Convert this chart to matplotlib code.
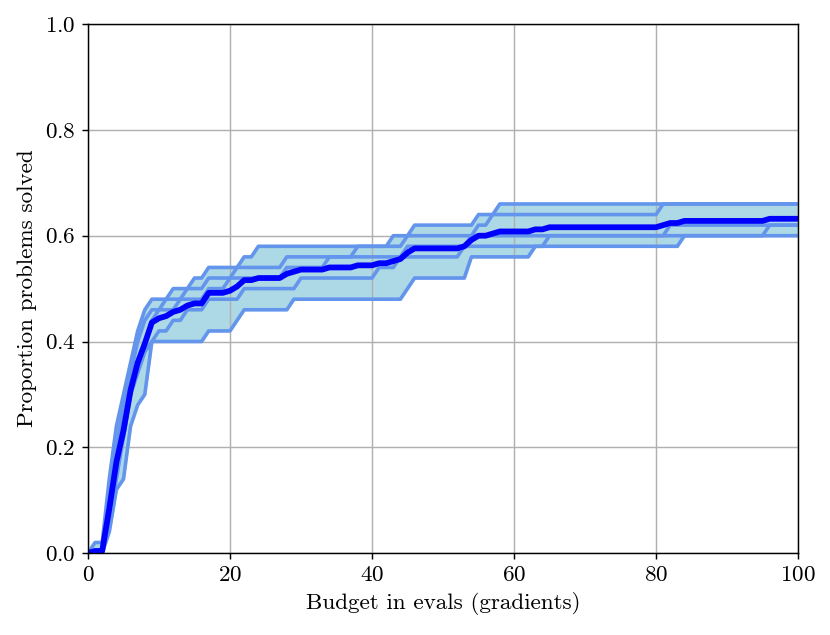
import numpy as np
import matplotlib
matplotlib.use("Agg")
import matplotlib.pyplot as plt

plt.rcParams["font.family"] = "serif"
plt.rcParams["font.serif"] = ["cmr10"]
plt.rcParams["mathtext.fontset"] = "cm"
plt.rcParams["axes.formatter.use_mathtext"] = True
plt.rcParams["font.size"] = 12.8

# budget grid (evals) and, per run, the budgets where the solved proportion changes
budgets = np.arange(0, 101)

run_a_at = [1, 3, 4, 5, 6, 7, 8, 9, 12, 15, 17, 22, 24, 43, 46, 55, 58]
run_a_solved = [0.02, 0.14, 0.24, 0.30, 0.36, 0.42, 0.46, 0.48, 0.50, 0.52, 0.54, 0.56, 0.58, 0.60, 0.62, 0.64, 0.66]

run_b_at = [3, 4, 5, 6, 7, 8, 9, 11, 14, 17, 21, 28, 38, 45, 55, 57, 81]
run_b_solved = [0.10, 0.20, 0.28, 0.34, 0.40, 0.44, 0.46, 0.48, 0.50, 0.52, 0.54, 0.56, 0.58, 0.60, 0.62, 0.64, 0.66]

run_c_at = [3, 4, 5, 6, 7, 8, 9, 10, 13, 17, 20, 28, 34, 45, 54, 96]
run_c_solved = [0.08, 0.16, 0.22, 0.30, 0.36, 0.40, 0.44, 0.46, 0.48, 0.50, 0.52, 0.54, 0.56, 0.58, 0.60, 0.62]

run_d_at = [3, 4, 5, 6, 7, 8, 9, 10, 12, 14, 17, 20, 22, 30, 41, 44, 53, 65, 82]
run_d_solved = [0.06, 0.14, 0.22, 0.30, 0.34, 0.38, 0.40, 0.42, 0.44, 0.46, 0.48, 0.48, 0.50, 0.52, 0.54, 0.56, 0.58, 0.60, 0.62]

run_e_at = [3, 4, 5, 6, 7, 8, 9, 17, 21, 22, 29, 45, 46, 54, 63, 84]
run_e_solved = [0.04, 0.12, 0.14, 0.24, 0.28, 0.30, 0.40, 0.42, 0.44, 0.46, 0.48, 0.50, 0.52, 0.56, 0.58, 0.60]


def solved_curve(change_at, change_solved):
    curve = np.zeros(len(budgets))
    for budget, value in zip(change_at, change_solved):
        curve[budgets >= budget] = value
    return curve


runs = np.array([
    solved_curve(run_a_at, run_a_solved),
    solved_curve(run_b_at, run_b_solved),
    solved_curve(run_c_at, run_c_solved),
    solved_curve(run_d_at, run_d_solved),
    solved_curve(run_e_at, run_e_solved),
])
mean_curve = runs.mean(axis=0)

figure = plt.figure(figsize=(830 / 130, 635 / 130), dpi=130)
axis = figure.add_axes([0.106, 0.129, 0.8555, 0.833])

axis.fill_between(budgets, runs.min(axis=0), runs.max(axis=0), color="lightblue")
for run in runs:
    axis.plot(budgets, run, color="cornflowerblue", linewidth=2)
axis.plot(budgets, mean_curve, color="blue", linewidth=3.2)

axis.set_xlim(0, 100)
axis.set_ylim(0, 1)
axis.set_xticks([0, 20, 40, 60, 80, 100])
axis.set_yticks([0.0, 0.2, 0.4, 0.6, 0.8, 1.0])
axis.grid(True)
axis.set_xlabel("Budget in evals (gradients)")
axis.set_ylabel("Proportion problems solved")

figure.savefig("out.png", dpi=130)
plt.close(figure)
